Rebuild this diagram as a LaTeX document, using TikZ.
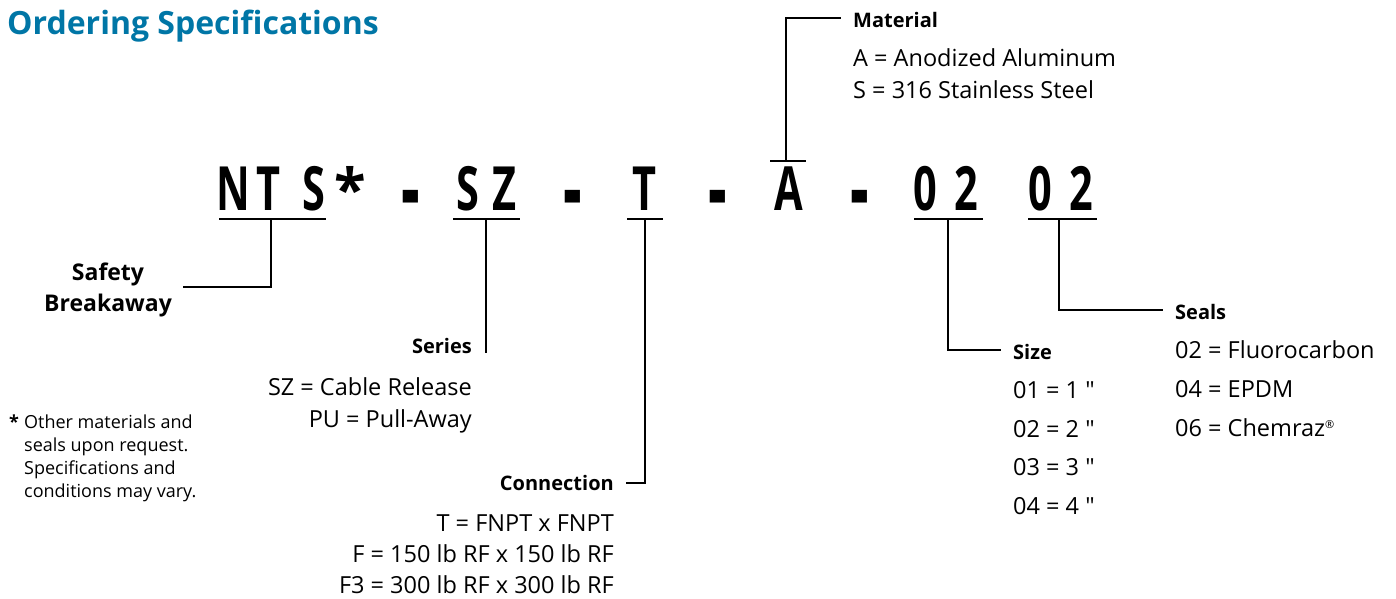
\documentclass[tikz,border=0pt]{standalone}
\usepackage{fontspec}
\setmainfont{Open Sans}[Ligatures=TeXOff]
\usetikzlibrary{calc}
\definecolor{titleblue}{RGB}{0,118,166}
\newcommand\codechar[1]{\scalebox{0.68}[1]{#1}}
\newcommand\codedash{\raisebox{-14pt}{\scalebox{0.95}[1.7]{-}}}
\tikzset{
  lbl/.style={font=\fontsize{20}{24}\selectfont\bfseries, inner sep=0},
  biglbl/.style={font=\fontsize{23}{31}\selectfont\bfseries, inner sep=0, align=center},
  txt/.style={font=\fontsize{23.5}{26}\selectfont, inner sep=0},
  note/.style={font=\fontsize{18}{23}\selectfont, inner sep=0, align=left},
  code/.style={font=\fontsize{61}{61}\selectfont\bfseries, inner sep=0, anchor=base},
  conn/.style={line width=2.6pt, line cap=rect},
  uline/.style={line width=2.8pt}
}
\begin{document}
\begin{tikzpicture}[x=1pt,y=-1pt]
\useasboundingbox (0,0) rectangle (1396,598);
% title
\node[anchor=base west, inner sep=0, text=titleblue, font=\fontsize{32}{34}\selectfont\bfseries] (title) at (7,34) {Ordering Specifications};

% code characters
\node[code] (cN)  at (233.5,210) {\codechar{N}};
\node[code] (cT1) at (269,210) {\codechar{T}};
\node[code] (cS1) at (313.5,210) {\codechar{S}};
\node[code] (cAst) at (350.5,210) {\scalebox{0.95}{*}};
\node[code] (d1) at (410.5,210) {\codedash};
\node[code] (cS2) at (467.5,210) {\codechar{S}};
\node[code] (cZ) at (505,210) {\codechar{Z}};
\node[code] (d2) at (572.5,210) {\codedash};
\node[code] (cT2) at (645,210) {\codechar{T}};
\node[code] (d3) at (717.5,210) {\codedash};
\node[code] (cA) at (788.5,210) {\codechar{A}};
\node[code] (d4) at (859.5,210) {\codedash};
\node[code] (c0a) at (925,210) {\codechar{0}};
\node[code] (c2a) at (966,210) {\codechar{2}};
\node[code] (c0b) at (1040,210) {\codechar{0}};
\node[code] (c2b) at (1081,210) {\codechar{2}};

% underlines
\coordinate (ntsL) at (219,219); \coordinate (ntsR) at (326,219); \coordinate (ntsM) at (271,219);
\coordinate (szL) at (453,219);  \coordinate (szR) at (520,219);  \coordinate (szM) at (486,219);
\coordinate (tL) at (627,219);   \coordinate (tR) at (663,219);   \coordinate (tM) at (645,219);
\coordinate (aL) at (770,161);   \coordinate (aR) at (806,161);   \coordinate (aM) at (786,161);
\coordinate (s1L) at (914,219);  \coordinate (s1R) at (983,219);  \coordinate (s1M) at (948,219);
\coordinate (s2L) at (1028,219); \coordinate (s2R) at (1097,219); \coordinate (s2M) at (1059,219);
\foreach \p in {nts,sz,t,a,s1,s2} \draw[uline] (\p L) -- (\p R);

% labels
\node[biglbl, anchor=center] (safety) at (108,290) {Safety\\Breakaway};
\coordinate (safetyEnd) at (184,287);
\draw[conn] (ntsM) |- (safetyEnd);

\node[lbl, anchor=base east] (series) at (472,353) {Series};
\coordinate (seriesEnd) at (486,352);
\draw[conn] (szM) -- (seriesEnd);
\node[txt, anchor=base east] (sz1) at (472,395) {SZ = Cable Release};
\node[txt, anchor=base east] (sz2) at (472,427) {PU = Pull-Away};

\node[lbl, anchor=base east] (connection) at (614,490) {Connection};
\coordinate (connEnd) at (627,483);
\draw[conn] (tM) |- (connEnd);
\node[txt, anchor=base east] (cn1) at (614,531) {T = FNPT x FNPT};
\node[txt, anchor=base east] (cn2) at (614,562) {F = 150 lb RF x 150 lb RF};
\node[txt, anchor=base east] (cn3) at (614,593) {F3 = 300 lb RF x 300 lb RF};

\node[lbl, anchor=base west] (material) at (853,27) {Material};
\coordinate (matEnd) at (840,18);
\draw[conn] (aM) |- (matEnd);
\node[txt, anchor=base west] (m1) at (853,66) {A = Anodized Aluminum};
\node[txt, anchor=base west] (m2) at (853,98) {S = 316 Stainless Steel};

\node[lbl, anchor=base west] (size) at (1013,359) {Size};
\coordinate (sizeEnd) at (1000,350);
\draw[conn] (s1M) |- (sizeEnd);
\node[txt, anchor=base west] (z1) at (1013,398) {01 = 1 "};
\node[txt, anchor=base west] (z2) at (1013,437) {02 = 2 "};
\node[txt, anchor=base west] (z3) at (1013,475) {03 = 3 "};
\node[txt, anchor=base west] (z4) at (1013,514) {04 = 4 "};

\node[lbl, anchor=base west] (seals) at (1175,319) {Seals};
\coordinate (sealsEnd) at (1162,310);
\draw[conn] (s2M) |- (sealsEnd);
\node[txt, anchor=base west] (e1) at (1175,358) {02 = Fluorocarbon};
\node[txt, anchor=base west] (e2) at (1175,397) {04 = EPDM};
\node[txt, anchor=base west] (e3) at (1175,436) {06 = Chemraz\raisebox{8pt}{\fontsize{11}{11}\selectfont\textregistered}};

% footnote
\node[note, anchor=base west, font=\fontsize{18}{23}\selectfont\bfseries] (ast) at (9,428) {*};
\node[note, anchor=north west] (fn) at (24,415) {Other materials and\\seals upon request.\\Specifications and\\conditions may vary.};
\end{tikzpicture}
\end{document}
